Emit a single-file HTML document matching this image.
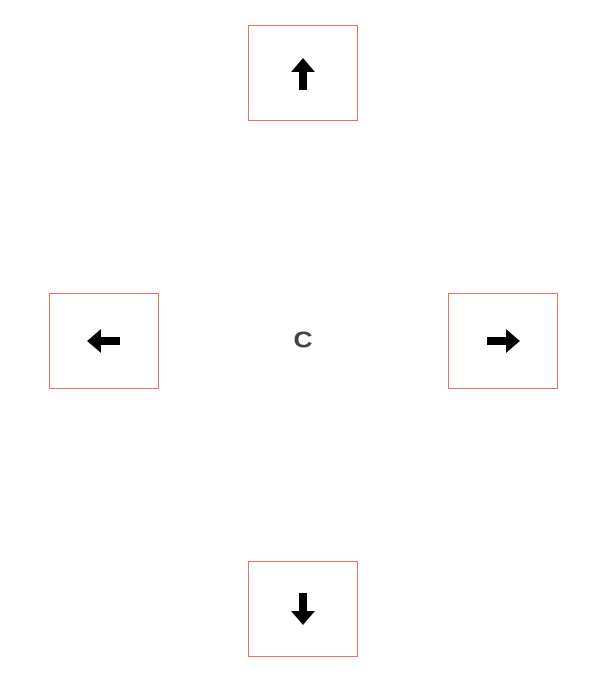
<!DOCTYPE html>
<html><head><meta charset="utf-8"><style>
html,body{margin:0;padding:0;background:#fff;width:612px;height:682px;overflow:hidden;position:relative;font-family:"Liberation Sans",sans-serif}
.btn{position:absolute;width:108px;height:94px;border:1px solid #f07060;box-sizing:content-box;background:#fff}
.btn svg{position:absolute;left:0;top:0}
#c{position:absolute;left:288px;top:327px;width:30px;text-align:center;font-weight:bold;font-size:24px;color:#444;line-height:28px;transform:scale(1.1,0.95)}
</style></head><body>
<div class="btn" style="left:248px;top:25px">
<svg width="108" height="94"><path d="M54 32 L66 46 L58 46 L58 64 L50 64 L50 46 L42 46 Z" fill="#000"/></svg></div>
<div class="btn" style="left:49px;top:293px">
<svg width="108" height="94"><path d="M37 47 L51 35 L51 43 L70 43 L70 51 L51 51 L51 59 Z" fill="#000"/></svg></div>
<div class="btn" style="left:448px;top:293px">
<svg width="108" height="94"><path d="M71 47 L57 35 L57 43 L38 43 L38 51 L57 51 L57 59 Z" fill="#000"/></svg></div>
<div class="btn" style="left:248px;top:561px">
<svg width="108" height="94"><path d="M54 63 L66 49 L58 49 L58 31 L50 31 L50 49 L42 49 Z" fill="#000"/></svg></div>
<div id="c">C</div>
</body></html>
